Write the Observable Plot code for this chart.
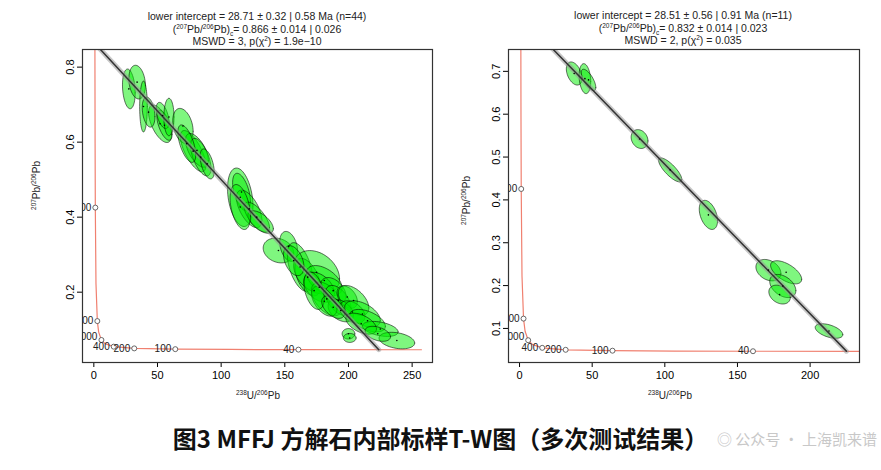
<!DOCTYPE html>
<html><head><meta charset="utf-8">
<script src="https://cdn.jsdelivr.net/npm/d3@7"></script>
<script src="https://cdn.jsdelivr.net/npm/@observablehq/plot@0.6"></script>
<style>
body{margin:0;background:#fff;font-family:"Liberation Sans",Arial,sans-serif;}
#wrap{position:relative;width:881px;height:470px;overflow:hidden}
.p{position:absolute;top:0}
.t{position:absolute;text-align:center;font-size:10.5px;line-height:12.5px;color:#222;white-space:nowrap}
.yl{position:absolute;font-size:10px;transform:rotate(-90deg);transform-origin:center;white-space:nowrap;color:#222}
.xl{position:absolute;font-size:10px;color:#222;white-space:nowrap}
sup,sub{font-size:6.5px;line-height:0}
#cap{position:absolute;top:420px;left:0;width:881px;text-align:center;font-family:"Noto Sans CJK SC";font-weight:bold;font-size:24px;color:#111}
#wm{position:absolute;top:428px;right:4px;font-family:"Noto Sans CJK SC";font-size:15px;color:#c8c8c8;white-space:nowrap}
</style></head><body>
<div id="wrap">
<div class="p" id="L" style="left:0"></div>
<div class="p" id="R" style="left:440px"></div>
<div class="t" style="left:107px;width:300px;top:10px">lower intercept = 28.71 ± 0.32 | 0.58 Ma (n=44)<br>(<sup>207</sup>Pb/<sup>206</sup>Pb)<sub>c</sub>= 0.866 ± 0.014 | 0.026<br>MSWD = 3, p(χ<sup>2</sup>) = 1.9e−10</div>
<div class="t" style="left:533px;width:300px;top:9px">lower intercept = 28.51 ± 0.56 | 0.91 Ma (n=11)<br>(<sup>207</sup>Pb/<sup>206</sup>Pb)<sub>c</sub>= 0.832 ± 0.014 | 0.023<br>MSWD = 2, p(χ<sup>2</sup>) = 0.035</div>
<div class="yl" style="left:12px;top:180px"><sup>207</sup>Pb/<sup>206</sup>Pb</div>
<div class="yl" style="left:442px;top:195px"><sup>207</sup>Pb/<sup>206</sup>Pb</div>
<div class="xl" style="left:236px;top:390px"><sup>238</sup>U/<sup>206</sup>Pb</div>
<div class="xl" style="left:648px;top:390px"><sup>238</sup>U/<sup>206</sup>Pb</div>
<div id="cap">图3 MFFJ 方解石内部标样T-W图（多次测试结果）</div>
<div id="wm">◎ 公众号 · 上海凯来谱</div>
</div>
<script>
// concordia ages (Ma) with 238U/206Pb and 207Pb/206Pb
const concAge=[25,40,60,100,200,400,700,1000,1500,2000,3000,4000,4500,5000];
const concX=[257.3,160.7,106.9,63.98,31.74,15.62,8.723,5.957,3.812,2.746,1.688,1.1637,0.9907,0.853];
const concY=[0.04655,0.0468,0.04723,0.04805,0.05013,0.05471,0.06282,0.0725,0.0935,0.1229,0.2228,0.4255,0.597,0.846];
const markAges=[40,100,200,400,1000,2000,4000];
// left panel ellipses: x, y, sx, sy, rho
const Lx=[27.5,34,39,52,55.5,54,59,70,78,81,84,89,115,116,122,128,131,145,153,162,168,175,181,177,183,188,192,199,204,194,203,211,215,200,201,225,238,181,173,188,157,115,210,223,73,43];
const Ly=[0.742,0.760,0.695,0.649,0.645,0.671,0.667,0.643,0.576,0.578,0.56,0.542,0.453,0.467,0.422,0.4,0.387,0.311,0.322,0.267,0.24,0.253,0.231,0.213,0.182,0.204,0.178,0.187,0.178,0.151,0.147,0.142,0.124,0.089,0.078,0.102,0.071,0.176,0.204,0.16,0.284,0.427,0.116,0.089,0.596,0.68];
const Lsx=[5,6.5,3,9,6,5,4,8,10,9,8,5.5,10,7,10,10,10,12,7,10,10,18,14,12,12,10,10,8,12,10,10,14,14,5,5,14,14,10,8,9,8,8,12,10,7,5];
const Lsy=[0.053,0.045,0.068,0.05,0.04,0.035,0.05,0.047,0.055,0.045,0.05,0.04,0.078,0.05,0.05,0.04,0.03,0.033,0.04,0.065,0.05,0.058,0.04,0.04,0.045,0.035,0.04,0.03,0.04,0.03,0.03,0.035,0.03,0.014,0.012,0.02,0.022,0.04,0.05,0.03,0.04,0.06,0.028,0.02,0.05,0.04];
const Lrho=[-0.2,-0.2,0,-0.6,-0.6,-0.5,0,-0.3,-0.7,-0.6,-0.6,-0.5,-0.3,-0.5,-0.6,-0.7,-0.6,-0.2,-0.3,-0.5,-0.5,-0.3,-0.5,-0.4,-0.5,-0.4,-0.5,-0.4,-0.5,-0.4,-0.4,-0.5,-0.5,0,0,-0.4,-0.3,-0.5,-0.4,-0.5,-0.4,-0.4,-0.5,-0.4,-0.6,-0.3];
// right panel ellipses
const Rx=[37.6,45,47.5,82.6,103.7,130,171.3,183.5,181.2,179,213];
const Ry=[0.695,0.683,0.680,0.542,0.470,0.365,0.236,0.231,0.199,0.179,0.094];
const Rsx=[5.4,4,5,5.8,8,6.3,8.6,10.7,9,7.4,9.5];
const Rsy=[0.027,0.035,0.025,0.022,0.028,0.034,0.025,0.027,0.027,0.022,0.017];
const Rrho=[-0.4,-0.2,-0.7,-0.2,-0.8,-0.4,-0.3,-0.6,-0.4,-0.3,-0.5];

function ell(X,Y,SX,SY,RHO){
  const pts=[];
  X.forEach((cx,i)=>{for(let k=0;k<=60;k++){const t=k/60*2*Math.PI;const r=RHO[i];
    pts.push({id:i,x:cx+SX[i]*Math.cos(t),y:Y[i]+SY[i]*(r*Math.cos(t)+Math.sqrt(1-r*r)*Math.sin(t))});}});
  return pts;
}
const conc=concX.map((x,i)=>({x,y:concY[i],age:concAge[i]}));
const marks=conc.filter(d=>markAges.includes(d.age));

function panel(el,o){
  const ells=ell(o.X,o.Y,o.SX,o.SY,o.RHO);
  const cen=o.X.map((x,i)=>({x,y:o.Y[i]}));
  const line=[{x:0,y:o.y0},{x:o.x1,y:o.y1}];
  const p=Plot.plot({
    width:o.w,height:410,marginLeft:o.ml,marginRight:o.mr,marginTop:49,marginBottom:48,
    style:{fontFamily:"Liberation Sans, Arial",fontSize:"10px",background:"white"},
    x:{domain:o.xd,ticks:o.xt,tickFormat:d=>d,label:null},
    y:{domain:o.yd,ticks:o.yt,tickFormat:d=>d,label:null},
    marks:[
      Plot.line(conc,{x:"x",y:"y",stroke:"#f08070",strokeWidth:1.2,clip:"frame"}),
      Plot.dot(marks,{x:"x",y:"y",r:2.5,stroke:"#444",fill:"white",strokeWidth:0.8,clip:"frame"}),
      Plot.text(marks.filter(d=>d.age!==1000),{x:"x",y:"y",text:d=>String(d.age),textAnchor:"end",dx:-4,fontSize:10,fill:"#222",clip:"frame"}),
      Plot.text(marks.filter(d=>d.age===1000),{x:"x",y:"y",text:d=>String(d.age),textAnchor:"end",dx:-4,dy:-3,fontSize:10,fill:"#222",clip:"frame"}),
      Plot.line(ells,{x:"x",y:"y",z:"id",fill:"#00ee00",fillOpacity:0.5,stroke:"#000",strokeWidth:0.8,strokeOpacity:0.7,clip:"frame"}),
      Plot.line(line,{x:"x",y:"y",stroke:"#999",strokeWidth:5,strokeOpacity:0.55,clip:"frame"}),
      Plot.line(line,{x:"x",y:"y",stroke:"#333",strokeWidth:1.5,clip:"frame"}),
      Plot.dot(cen,{x:"x",y:"y",r:0.8,fill:"black"}),
      Plot.axisX({ticks:o.xt,tickSize:5,tickFormat:d=>d,label:null,fontSize:11}),
      Plot.axisY({ticks:o.yt,tickSize:5,tickFormat:d=>d,label:null,tickRotate:-90,fontSize:11}),
      Plot.frame({stroke:"#333",strokeWidth:1.2})
    ]
  });
  document.getElementById(el).appendChild(p);
}
panel("L",{w:440,ml:82,mr:8,xd:[-8.9,266],yd:[0.0125,0.847],xt:[0,50,100,150,200,250],yt:[0.2,0.4,0.6,0.8],
  X:Lx,Y:Ly,SX:Lsx,SY:Lsy,RHO:Lrho,y0:0.866,x1:223.8,y1:0.0467});
panel("R",{w:441,ml:68,mr:22,xd:[-7.6,234],yd:[0.0205,0.751],xt:[0,50,100,150,200],yt:[0.1,0.2,0.3,0.4,0.5,0.6,0.7],
  X:Rx,Y:Ry,SX:Rsx,SY:Rsy,RHO:Rrho,y0:0.832,x1:225,y1:0.047});
</script></body></html>
